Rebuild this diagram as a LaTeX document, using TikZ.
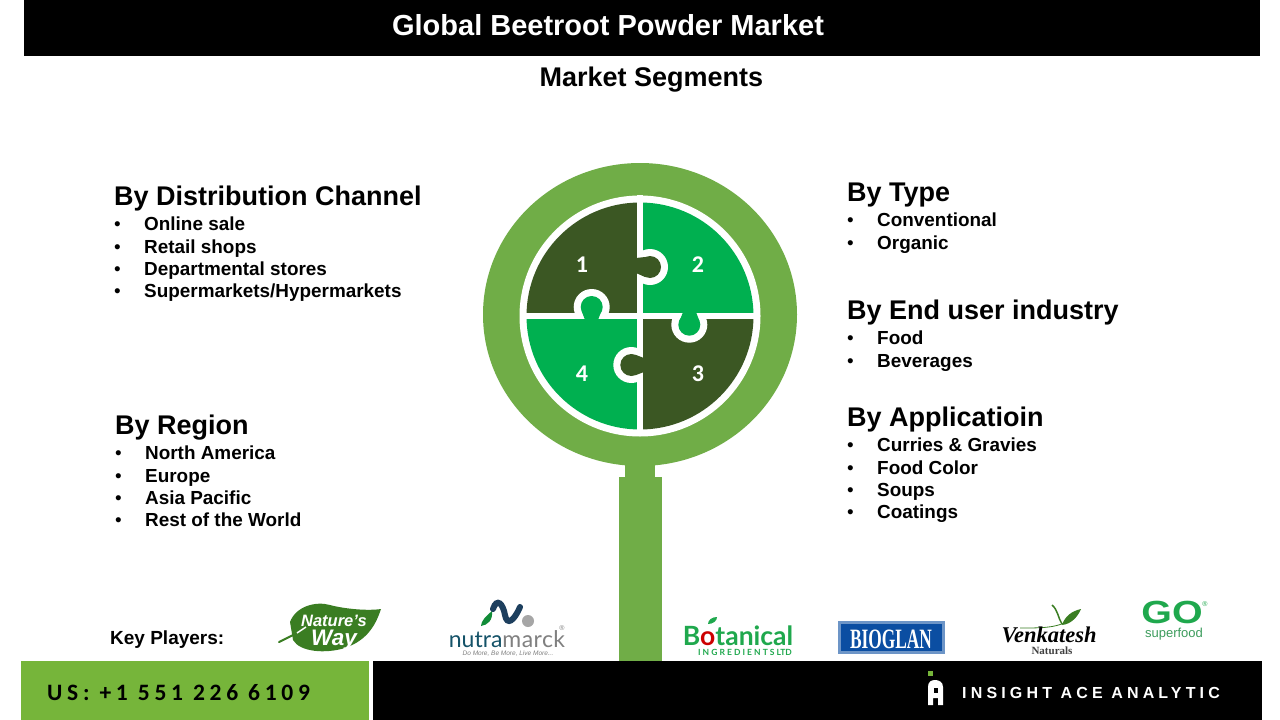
\documentclass[tikz,border=0pt]{standalone}
\usepackage{fontspec}
\setmainfont{Liberation Sans}
\newfontfamily\carlito{Carlito}
\newfontfamily\spaced[LetterSpace=20]{Carlito}
\newfontfamily\widefont[LetterSpace=26]{Liberation Sans}
\newfontfamily\logofont{Lato}
\newfontfamily\serifont{Liberation Serif}
\usetikzlibrary{positioning}
\definecolor{ringgreen}{HTML}{70AD47}
\definecolor{footgreen}{HTML}{76B53A}
\definecolor{darkgreen}{HTML}{3B5723}
\definecolor{puregreen}{HTML}{00B050}
\definecolor{leafgreen}{HTML}{3A7D22}
\definecolor{botgreen}{HTML}{1FA84D}
\definecolor{navyblue}{HTML}{1D3F5E}
\definecolor{bioblue}{HTML}{0B4EA2}
\tikzstyle{heading} = [anchor=base west, inner sep=0pt, font=\fontsize{27}{29}\selectfont\bfseries]
\tikzstyle{entry} = [anchor=base west, inner sep=0pt, font=\fontsize{18.9}{21}\selectfont\bfseries]
\tikzstyle{number} = [text=white, inner sep=0pt, font=\fontsize{24}{26}\selectfont\carlito\bfseries]
\tikzstyle{logotext} = [inner sep=0pt, anchor=base]
\newcommand{\bitem}[1]{\makebox[30pt][l]{\mdseries\textbullet}#1}
\newcommand{\knob}[7]{% centre x, centre y, colour, clip corners
	\begin{scope}
		\clip (#4,#5) rectangle (#6,#7);
		\fill [white] (#1,#2) circle [radius=18];
	\end{scope}
	\fill [#3] (#1,#2) circle [radius=11];
}
\begin{document}
\begin{tikzpicture}[x=1pt, y=-1pt]
	\useasboundingbox (0,0) rectangle (1280,720);
	\fill [white] (0,0) rectangle (1280,720);

	% bars
	\fill [black] (24,0) rectangle (1260,56);
	\fill [footgreen] (21,661) rectangle (369,720);
	\fill [black] (373,661) rectangle (1262,720);
	\node [anchor=base, text=white, inner sep=0pt, font=\fontsize{29}{31}\selectfont\bfseries] (title) at (608,35) {Global Beetroot Powder Market};
	\node [anchor=base, inner sep=0pt, font=\fontsize{27}{29}\selectfont\bfseries] (subtitle) at (651.5,86) {Market Segments};

	% magnifier
	\fill [ringgreen] (625,450) rectangle (655,480);
	\fill [ringgreen] (618.5,477) rectangle (661.5,661);
	\fill [ringgreen] (640,314.5) ellipse [x radius=157, y radius=151.5];
	\fill [white] (640,316) circle [radius=120.5];
	\begin{scope}
		\clip (640,316) circle [radius=113.5];
		\fill [darkgreen] (520,195) rectangle (640,316);
		\fill [puregreen] (640,195) rectangle (760,316);
		\fill [darkgreen] (640,316) rectangle (760,436);
		\fill [puregreen] (520,316) rectangle (640,436);
	\end{scope}
	\fill [white] (636.7,195) rectangle (643.3,436);
	\fill [white] (520,312.7) rectangle (760,319.3);

	\knob{650}{267}{darkgreen}{640}{240}{680}{290}
	\fill [darkgreen] (636,258) -- (645,257) -- (645,277) -- (636,273) -- cycle;
	\knob{591.7}{307}{puregreen}{570}{280}{615}{316}
	\fill [puregreen] (585,320) -- (582,312) -- (601,312) -- (598,320) -- cycle;
	\knob{689.3}{324.7}{puregreen}{665}{316}{715}{350}
	\fill [puregreen] (683,312) -- (696,312) -- (699,320) -- (680,320) -- cycle;
	\knob{631.3}{365}{darkgreen}{605}{340}{640}{390}
	\fill [darkgreen] (644,358) -- (636,355) -- (636,375) -- (644,372) -- cycle;

	\node [number] (n1) at (582,265) {1};
	\node [number] (n2) at (698,265) {2};
	\node [number] (n3) at (698,374) {3};
	\node [number] (n4) at (582,374) {4};

	% left column
	\node [heading] (distribution) at (114,205.5) {By Distribution Channel};
	\node [entry] (d1) at (114,230) {\bitem{Online sale}};
	\node [entry] (d2) at (114,253) {\bitem{Retail shops}};
	\node [entry] (d3) at (114,275) {\bitem{Departmental stores}};
	\node [entry] (d4) at (114,297) {\bitem{Supermarkets/Hypermarkets}};

	\node [heading] (region) at (115,434.5) {By Region};
	\node [entry] (r1) at (115,459) {\bitem{North America}};
	\node [entry] (r2) at (115,482) {\bitem{Europe}};
	\node [entry] (r3) at (115,504) {\bitem{Asia Pacific}};
	\node [entry] (r4) at (115,526) {\bitem{Rest of the World}};

	% right column
	\node [heading] (type) at (847,201.5) {By Type};
	\node [entry] (t1) at (847,226) {\bitem{Conventional}};
	\node [entry] (t2) at (847,249) {\bitem{Organic}};

	\node [heading] (enduser) at (847,319.5) {By End user industry};
	\node [entry] (e1) at (847,344) {\bitem{Food}};
	\node [entry] (e2) at (847,367) {\bitem{Beverages}};

	\node [heading] (application) at (847,426.5) {By Applicatioin};
	\node [entry] (a1) at (847,451) {\bitem{Curries \& Gravies}};
	\node [entry] (a2) at (847,474) {\bitem{Food Color}};
	\node [entry] (a3) at (847,496) {\bitem{Soups}};
	\node [entry] (a4) at (847,518) {\bitem{Coatings}};

	% key players
	\node [anchor=base west, inner sep=0pt, font=\fontsize{19}{21}\selectfont\bfseries] (players) at (110,644) {Key Players:};

	\fill [leafgreen] (290,622) .. controls (296,606) and (316,601) .. (330,605) .. controls (345,609) and (368,611) .. (381,609) .. controls (376,624) and (368,640) .. (345,648) .. controls (325,654) and (300,652) .. (293,640) -- cycle;
	\draw [leafgreen, line width=2, line cap=round] (279,642) -- (297,633);
	\draw [white, line width=1.5] (297,633) -- (306,627);
	\node [logotext, text=white, font=\fontsize{16.5}{18}\selectfont\bfseries\itshape] (natures) at (334,626) {Nature's};
	\node [logotext, text=white, font=\fontsize{22.5}{24}\selectfont\bfseries\itshape] (way) at (334,645) {Way};

	\fill [navyblue!60!green] (492,611) .. controls (486,616) and (481,621) .. (481,626) .. controls (488,625) and (493,620) .. (492,611) -- cycle;
	\draw [navyblue, line width=6, line cap=round] (493,609) .. controls (497,597) and (503,604) .. (505,615) .. controls (507,626) and (514,621) .. (520,607);
	\fill [gray!70] (528,621) circle [radius=6];
	\node [logotext, font=\fontsize{23}{24}\selectfont\logofont] (nutra) at (507,647) {\textcolor{navyblue!70!teal}{nutra}\textcolor{gray}{\addfontfeature{LetterSpace=2}marck}};
	\node [logotext, text=gray, font=\fontsize{6.5}{7}\selectfont\itshape] (tagline) at (508,655.5) {Do More, Be More, Live More...};
	\node [logotext, text=gray, font=\fontsize{7}{8}\selectfont] (nutrareg) at (562,630) {\textregistered};

	\fill [botgreen] (708,624) .. controls (708,620) and (712,617) .. (717,617) .. controls (717,621) and (713,624) .. (708,624) -- cycle;
	\node [logotext, text=botgreen, font=\fontsize{26.5}{28}\selectfont\logofont\bfseries] (botanical) at (738,645) {B\textcolor{red!80!black}{o}tanical};
	\node [logotext, text=botgreen, font=\fontsize{8.5}{10}\selectfont\logofont\bfseries] (ingredients) at (745,655) {I N G R E D I E N T S  LTD};

	\fill [bioblue!60!white] (838,621) rectangle (945,654);
	\fill [bioblue] (841,624) rectangle (942,651);
	\node [logotext, text=white, font=\fontsize{28}{30}\selectfont\serifont\bfseries] (bioglan) at (891,648) {\scalebox{0.62}[1]{BIOGLAN}};

	\fill [leafgreen] (1062,625) .. controls (1072,624) and (1078,616) .. (1081,609) .. controls (1072,611) and (1065,616) .. (1062,625) -- cycle;
	\draw [leafgreen, line width=1.5] (1052,605) .. controls (1058,610) and (1058,618) .. (1062,624);
	\draw [leafgreen, line width=0.8] (1020,628) .. controls (1040,628) and (1055,628) .. (1066,622);
	\node [logotext, font=\fontsize{22.5}{24}\selectfont\serifont\bfseries\itshape] (venkatesh) at (1049,642) {Venkatesh};
	\node [logotext, font=\fontsize{11}{13}\selectfont\serifont\bfseries, text=black!75] (naturals) at (1052,654) {Naturals};

	\node [logotext, text=botgreen, font=\fontsize{32}{34}\selectfont\bfseries] (go) at (1172,623) {\scalebox{1.23}[1]{GO}};
	\node [logotext, text=botgreen, font=\fontsize{7}{8}\selectfont] (goreg) at (1205,606) {\textregistered};
	\node [logotext, text=botgreen!70!gray, font=\fontsize{13}{14}\selectfont] (superfood) at (1174,637) {superfood};

	% footer
	\node [anchor=base west, inner sep=0pt, font=\fontsize{23.5}{25}\selectfont\spaced\bfseries] (phone) at (47,700) {US: +1 551 226 6109};
	\fill [footgreen] (928,671) rectangle (932.5,676);
	\fill [white] (928,705) -- (928,687) .. controls (928,682) and (931,680) .. (935,680) .. controls (939,680) and (943,682) .. (943,687) -- (943,705) -- (938,705) -- (938,698) -- (933,698) -- (933,705) -- cycle;
	\fill [black] (934,688) rectangle (937.5,693);
	\node [anchor=base west, inner sep=0pt, text=white, font=\fontsize{16}{18}\selectfont\widefont\bfseries] (insight) at (962,698) {INSIGHT ACE ANALYTIC};
\end{tikzpicture}
\end{document}
